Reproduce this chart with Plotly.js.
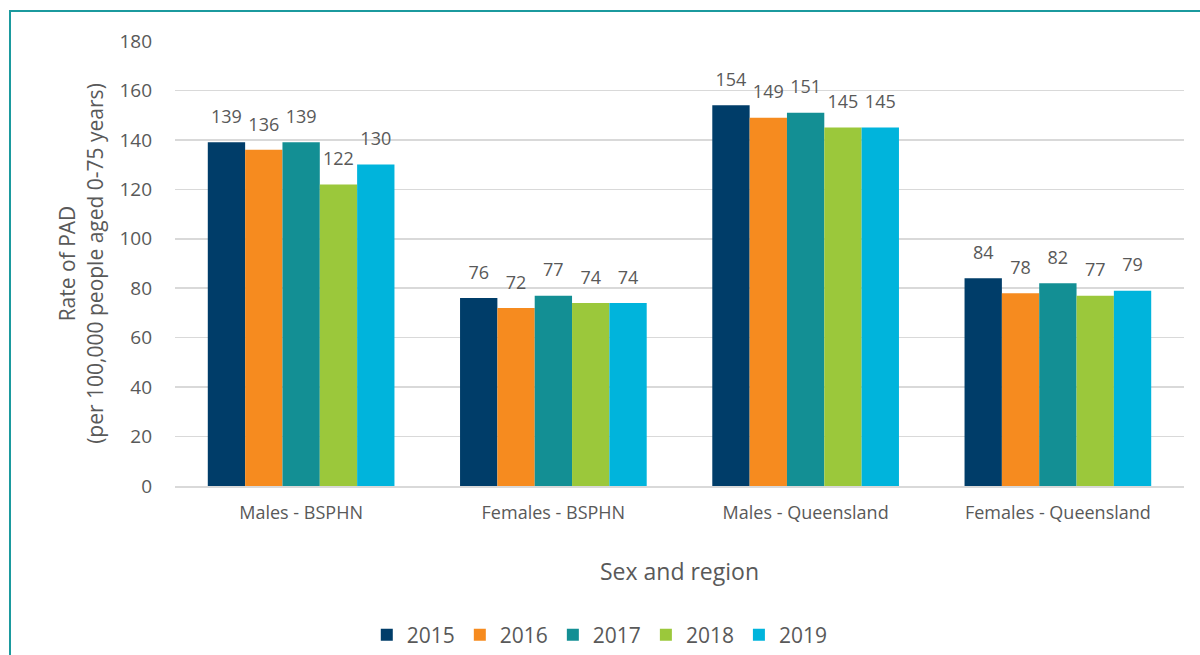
<!DOCTYPE html>
<html>
<head>
<meta charset="utf-8">
<script src="https://cdn.plot.ly/plotly-3.0.1.min.js"></script>
<style>
  html, body { margin: 0; padding: 0; background: #ffffff; }
  #chart { width: 1200px; height: 655px; }
  #frame { position: absolute; left: 9px; top: 10px; width: 1200px; height: 700px;
           border: 2px solid #1b9a9e; pointer-events: none; }
</style>
</head>
<body>
<div id="chart"></div>
<div id="frame"></div>
<script>
const categories = ["Males - BSPHN", "Females - BSPHN", "Males - Queensland", "Females - Queensland"];
const years = ["2015", "2016", "2017", "2018", "2019"];
const v2015 = [139, 76, 154, 84];
const v2016 = [136, 72, 149, 78];
const v2017 = [139, 77, 151, 82];
const v2018 = [122, 74, 145, 77];
const v2019 = [130, 74, 145, 79];
const colors = ["#003d69", "#f68b1f", "#138f94", "#9bc83b", "#00b4dc"];

const series = [v2015, v2016, v2017, v2018, v2019];
const FONT = "Open Sans, sans-serif";
const GREY = "#595959";

const barTraces = series.map((vals, i) => ({
  type: "bar",
  name: years[i],
  x: categories,
  y: vals,
  marker: { color: colors[i] },
  hoverinfo: "x+y+name"
}));

const labelTraces = series.map((vals, i) => ({
  type: "scatter",
  mode: "markers+text",
  name: years[i] + " labels",
  showlegend: false,
  x: categories,
  y: vals,
  text: vals.map(String),
  textposition: "top center",
  cliponaxis: false,
  textfont: { family: FONT, size: 18, color: GREY },
  marker: { size: 22, color: "rgba(0,0,0,0)" },
  hoverinfo: "skip"
}));

const layout = {
  width: 1200,
  height: 655,
  margin: { l: 175, r: 16, t: 41, b: 169, autoexpand: false },
  paper_bgcolor: "#ffffff",
  plot_bgcolor: "#ffffff",
  font: { family: FONT, color: GREY, size: 18 },
  barmode: "group",
  bargap: 0.26,
  bargroupgap: 0,
  scattermode: "group",
  scattergap: 0.26,
  showlegend: true,
  legend: {
    orientation: "h",
    x: 0.421, xanchor: "center",
    y: -0.335, yanchor: "middle",
    font: { family: FONT, size: 21, color: GREY },
    itemwidth: 30,
    traceorder: "normal"
  },
  xaxis: {
    type: "category",
    showgrid: false,
    showline: true,
    linecolor: "#d9d9d9",
    linewidth: 1.5,
    ticks: "",
    ticklabelstandoff: 10,
    tickfont: { family: FONT, size: 18, color: GREY },
    title: { text: "Sex and region", font: { family: FONT, size: 23, color: GREY }, standoff: 41 }
  },
  yaxis: {
    range: [0, 180],
    dtick: 20,
    tick0: 0,
    showgrid: true,
    gridcolor: "#d9d9d9",
    gridwidth: 1.5,
    zeroline: false,
    showline: false,
    ticks: "",
    ticklabelstandoff: 22,
    tickfont: { family: FONT, size: 19, color: GREY },
    title: { text: "Rate of PAD<br>(per 100,000 people aged 0-75 years)", font: { family: FONT, size: 21, color: GREY }, standoff: 10 }
  }
};

Plotly.newPlot("chart", barTraces.concat(labelTraces), layout, { displayModeBar: false, staticPlot: true });
</script>
</body>
</html>
